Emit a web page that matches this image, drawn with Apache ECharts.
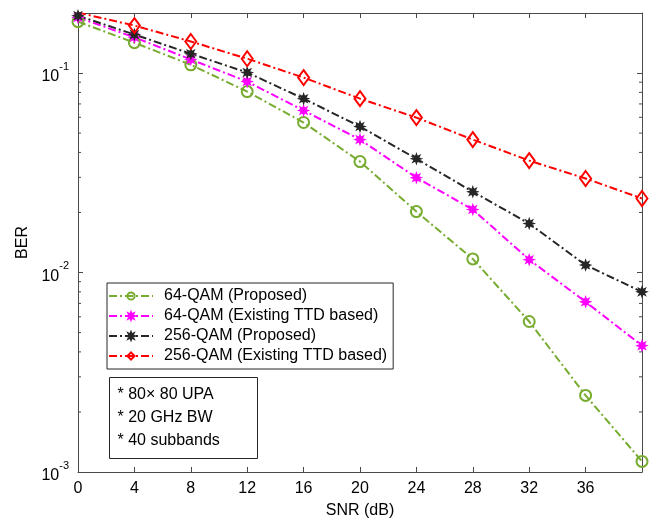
<!DOCTYPE html>
<html>
<head>
<meta charset="utf-8">
<script src="https://cdn.jsdelivr.net/npm/echarts@6/dist/echarts.min.js"></script>
<style>html,body{margin:0;padding:0;background:#fff}#c{width:656px;height:528px}</style>
</head>
<body>
<div id="c"></div>
<script>
var snr = [0, 4, 8, 12, 16, 20, 24, 28, 32, 36, 40];
var xTicks = [0, 4, 8, 12, 16, 20, 24, 28, 32, 36];
var yTickExps = [-3, -2, -1];
var qam64Proposed = [0.181, 0.142, 0.110, 0.0807, 0.0565, 0.0360, 0.0202, 0.0117, 0.00568, 0.00242, 0.00113];
var qam64Existing = [0.190, 0.151, 0.117, 0.0906, 0.0649, 0.0464, 0.0299, 0.0207, 0.0116, 0.00713, 0.00430];
var qam256Proposed = [0.194, 0.156, 0.125, 0.1006, 0.0744, 0.0539, 0.0372, 0.0254, 0.0176, 0.0109, 0.0080];
var qam256Existing = [0.201, 0.173, 0.144, 0.118, 0.0949, 0.0744, 0.0598, 0.0464, 0.0364, 0.0296, 0.0235];
var seriesNames = ['64-QAM (Proposed)', '64-QAM (Existing TTD based)', '256-QAM (Proposed)', '256-QAM (Existing TTD based)'];
var noteLines = ['* 80\u00d7 80 UPA', '* 20 GHz BW', '* 40 subbands'];

var FONT = 'Liberation Sans, Arial, Helvetica, sans-serif';
var AX = '#4a4a4a';
var DASH = [8, 3, 2, 3];
var STAR = 'path://M20 10 L14.6 11.9 L17.07 17.07 L11.9 14.6 L10 20 L8.1 14.6 L2.93 17.07 L5.4 11.9 L0 10 L5.4 8.1 L2.93 2.93 L8.1 5.4 L10 0 L11.9 5.4 L17.07 2.93 L14.6 8.1 Z';

function pairs(ys) { return snr.map(function (x, i) { return [x, ys[i]]; }); }

var minorVals = [];
for (var e = -3; e <= -1; e++) {
  for (var m = 2; m <= 9; m++) {
    var v = m * Math.pow(10, e);
    if (v < 0.2) minorVals.push([0, v]);
  }
}

function lineSeries(name, data, color, symbol, size, filled) {
  return {
    name: name, type: 'line', data: pairs(data),
    xAxisIndex: 0, yAxisIndex: 0,
    symbol: symbol, symbolSize: size, showSymbol: true,
    lineStyle: { color: color, width: 2, type: DASH },
    itemStyle: filled ? { color: color, borderColor: color, borderWidth: 1.5 }
                      : { color: 'rgba(0,0,0,0)', borderColor: color, borderWidth: 2 },
    color: color,
    z: 3
  };
}

var logLabel = function (v) {
  var lg = Math.log10(v);
  var r = Math.round(lg);
  if (Math.abs(lg - r) > 1e-6 || yTickExps.indexOf(r) < 0) return '';
  return '{b|10}{s|' + r + '}';
};

var option = {
  animation: false,
  backgroundColor: '#fff',
  grid: { left: 78, right: 14, top: 13, bottom: 56, containLabel: false },
  xAxis: [{
    type: 'value', min: 0, max: 40, interval: 4, position: 'bottom',
    name: 'SNR (dB)', nameLocation: 'middle', nameGap: 31,
    nameTextStyle: { fontFamily: FONT, fontSize: 16, color: '#000' },
    axisLine: { show: true, lineStyle: { color: AX, width: 1 } },
    axisTick: { show: true, inside: true, length: 5, lineStyle: { color: AX } },
    axisLabel: { show: true, fontFamily: FONT, fontSize: 16, color: '#000', margin: 9,
      showMaxLabel: false,
      formatter: function (v) { return xTicks.indexOf(v) >= 0 ? String(v) : ''; } },
    splitLine: { show: false }
  }, {
    type: 'value', min: 0, max: 40, interval: 4, position: 'top',
    axisLine: { show: true, onZero: false, lineStyle: { color: AX, width: 1 } },
    axisTick: { show: true, inside: true, length: 5, lineStyle: { color: AX } },
    axisLabel: { show: false }, splitLine: { show: false }
  }],
  yAxis: [{
    type: 'log', logBase: 10, min: 0.001, max: 0.2, position: 'left',
    name: 'BER', nameLocation: 'middle', nameGap: 45,
    nameTextStyle: { fontFamily: FONT, fontSize: 16, color: '#000' },
    axisLine: { show: true, lineStyle: { color: AX, width: 1 } },
    axisTick: { show: true, inside: true, length: 5, lineStyle: { color: AX } },
    axisLabel: { show: true, margin: 9, showMaxLabel: false, formatter: logLabel,
      rich: {
        b: { fontFamily: FONT, fontSize: 16, color: '#000', lineHeight: 24, verticalAlign: 'bottom' },
        s: { fontFamily: FONT, fontSize: 11, color: '#000', lineHeight: 24, verticalAlign: 'top' }
      } },
    splitLine: { show: false }
  }, {
    type: 'log', logBase: 10, min: 0.001, max: 0.2, position: 'right',
    axisLine: { show: true, onZero: false, lineStyle: { color: AX, width: 1 } },
    axisTick: { show: true, inside: true, length: 5, lineStyle: { color: AX } },
    axisLabel: { show: false }, splitLine: { show: false }
  }],
  legend: {
    data: seriesNames,
    orient: 'vertical', left: 107, top: 283,
    padding: [5, 6, 5, 1], itemGap: 4, itemWidth: 44, itemHeight: 9,
    backgroundColor: '#fff', borderColor: '#262626', borderWidth: 1, borderRadius: 0,
    textStyle: { fontFamily: FONT, fontSize: 16, color: '#000', padding: [0, 0, 0, 6], lineHeight: 16 },
    selectedMode: false
  },
  graphic: [{
    type: 'group', left: 109, top: 377, z: 100,
    children: [{
      type: 'rect', shape: { x: 0, y: 0, width: 148, height: 81 },
      style: { fill: '#fff', stroke: '#262626', lineWidth: 1 }
    }].concat(noteLines.map(function (t, i) {
      return { type: 'text', x: 8, y: 17 + i * 23,
        style: { text: t, fontFamily: FONT, fontSize: 16, fill: '#000', verticalAlign: 'middle' } };
    }))
  }],
  series: [
    lineSeries(seriesNames[0], qam64Proposed, '#77AC30', 'circle', 11, false),
    lineSeries(seriesNames[1], qam64Existing, '#FF00FF', STAR, 9, true),
    lineSeries(seriesNames[2], qam256Proposed, '#262626', STAR, 9, true),
    lineSeries(seriesNames[3], qam256Existing, '#FF0000', 'diamond', [11, 15], false),
    {
      type: 'custom', name: 'minorTicks', xAxisIndex: 0, yAxisIndex: 0, silent: true,
      data: minorVals, z: 1,
      renderItem: function (params, api) {
        var l = api.coord([0, api.value(1)]);
        var r = api.coord([40, api.value(1)]);
        var st = { stroke: AX, lineWidth: 1 };
        return { type: 'group', children: [
          { type: 'line', shape: { x1: l[0], y1: l[1], x2: l[0] + 3, y2: l[1] }, style: st },
          { type: 'line', shape: { x1: r[0] - 3, y1: r[1], x2: r[0], y2: r[1] }, style: st }
        ] };
      }
    }
  ]
};

var chart = echarts.init(document.getElementById('c'), null, { renderer: 'canvas' });
chart.setOption(option);
</script>
</body>
</html>
